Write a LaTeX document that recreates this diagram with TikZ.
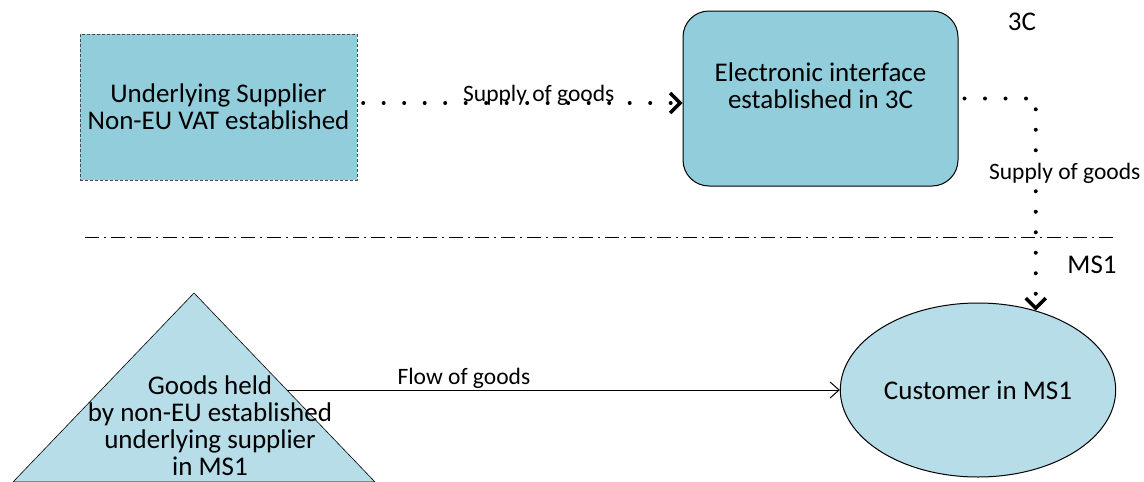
\documentclass[tikz,border=0pt]{standalone}
\usepackage{fontspec}
\setmainfont{Carlito}
\usetikzlibrary{arrows.meta,shapes.geometric}
\definecolor{boxblue}{HTML}{92CDDC}
\definecolor{paleblue}{HTML}{B7DDE8}
\tikzset{
	textbig/.style={font=\fontsize{27}{27}\selectfont, align=center},
	textsmall/.style={font=\fontsize{23.5}{26}\selectfont},
	supply/.style={line width=4pt, line cap=round, dash pattern=on 0pt off 20.5pt,
		-{Straight Barb[length=10pt,width=20pt,line width=3.5pt]}},
	flow/.style={line width=1pt, -{Straight Barb[length=9pt,width=16pt,line width=1pt]}}
}

\begin{document}
\begin{tikzpicture}[x=1pt, y=-1pt]
			%%%%% START %%%%%
			\useasboundingbox (0, 0) rectangle (1144, 482);
			
			% third country
			\node[draw=black!70, dash pattern=on 3pt off 2pt, fill=boxblue, minimum width=277pt, minimum height=146pt, textbig] (supplier) at (218.5, 107) {Underlying Supplier\\Non-EU VAT established};
			\node[draw, line width=1pt, fill=boxblue, rounded corners=26pt, minimum width=275pt, minimum height=175pt,
				label={[textbig, yshift=13pt]center:Electronic interface\\established in 3C}] (iface) at (820.5, 98.5) {};
			\node[textbig] (zone3c) at (1022, 22) {3C};
			
			% border
			\draw[line width=1pt, dash pattern=on 14pt off 5pt on 2pt off 5pt] (85, 237) -- (1115, 237);
			\node[textbig] (zonems) at (1092, 265) {MS1};
			
			% member state
			\coordinate (apex) at (194, 293);
			\coordinate (baseL) at (13, 482);
			\coordinate (baseR) at (375, 482);
			\draw[line width=0.6pt, fill=paleblue] (apex) -- (baseR) -- (baseL) -- cycle;
			\node[textbig] (goods) at (210, 426) {Goods held\\by non-EU established\\underlying supplier\\in MS1};
			\node[draw, line width=1pt, ellipse, fill=paleblue, minimum width=274pt, minimum height=174pt, textbig] (customer) at (978, 390) {Customer in MS1};
			\coordinate (flowstart) at (287, 390);
			
			% connectors
			\draw[supply] ([yshift=4pt]supplier.east) ++(6, 0) -- ([yshift=-4.5pt]iface.west)
				node[textsmall, pos=0.55, anchor=base, yshift=2pt] {Supply of goods};
			\draw[supply] (iface.east) ++(6, 0) -| (customer.54.5)
				node[textsmall, pos=0.676, fill=white, inner sep=1pt, xshift=29pt] {Supply of goods};
			\draw[flow] (flowstart) -- (customer.west)
				node[textsmall, pos=0.32, anchor=base, yshift=6pt] {Flow of goods};
			%%%%% END %%%%%
\end{tikzpicture}
\end{document}
